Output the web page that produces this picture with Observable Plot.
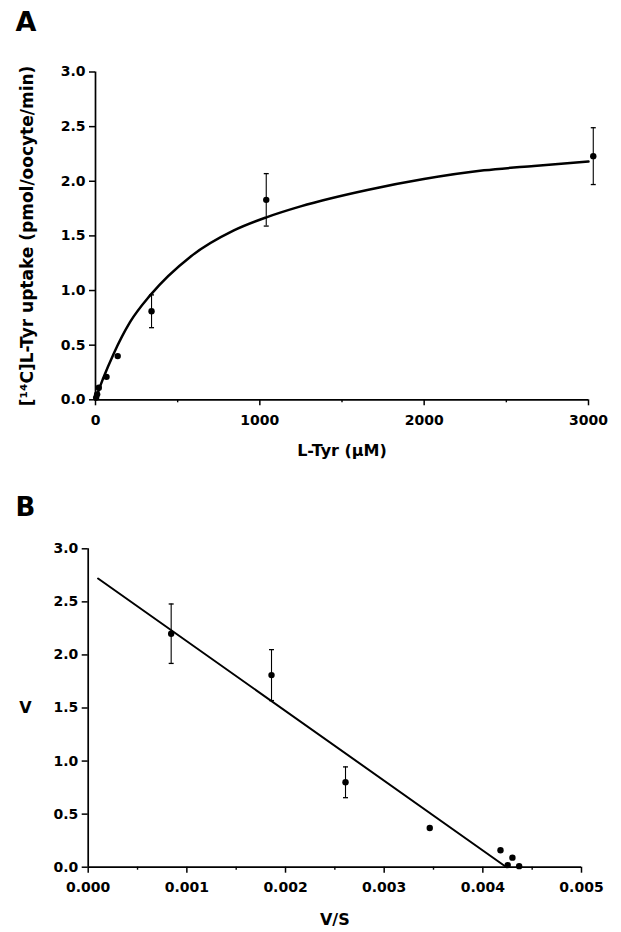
<!DOCTYPE html>
<html><head><meta charset="utf-8">
<script src="https://cdn.jsdelivr.net/npm/d3@7"></script>
<script src="https://cdn.jsdelivr.net/npm/@observablehq/plot@0.6"></script>
<style>
body{margin:0;background:#fff}
#wrap{position:relative;width:621px;height:932px;background:#fff}
#wrap svg{position:absolute;left:0}
</style>
</head><body><div id="wrap"></div>
<script>
// ---- Panel A: Michaelis-Menten plot ----
const aS   = [4, 10, 20, 67, 135, 341, 1039, 3029];        // L-Tyr (µM)
const aV   = [0.02, 0.05, 0.11, 0.21, 0.40, 0.81, 1.83, 2.23]; // uptake
const aErr = [0, 0, 0, 0, 0, 0.15, 0.24, 0.26];
// fitted curve
const aCurveS = [0, 20, 45, 110, 210, 335, 578, 842, 1040, 1248, 1654, 1998, 2364, 2668, 3000];
const aCurveV = [0, 0.09, 0.19, 0.42, 0.71, 0.96, 1.31, 1.55, 1.67, 1.77, 1.92, 2.02, 2.10, 2.14, 2.18];
const aXTicks = [0, 1000, 2000, 3000];
const aXMinor = [500, 1500, 2500];
const aYTicks = [0, 0.5, 1.0, 1.5, 2.0, 2.5, 3.0];
const aXLabel = "L-Tyr (µM)";
const aYLabel = "[¹⁴C]L-Tyr uptake (pmol/oocyte/min)";

// ---- Panel B: Eadie-Hofstee plot ----
const bVS  = [0.000841, 0.001858, 0.002608, 0.003462, 0.004179, 0.004300, 0.004252, 0.004368];
const bV   = [2.20, 1.81, 0.80, 0.37, 0.16, 0.09, 0.02, 0.01];
const bErr = [0.28, 0.24, 0.145, 0, 0, 0, 0, 0];
const bLineVS = [0.0001, 0.00424];
const bLineV  = [2.72, 0];
const bXTicks = [0, 0.001, 0.002, 0.003, 0.004, 0.005];
const bXMinor = [0.0005, 0.0015, 0.0025, 0.0035, 0.0045];
const bYTicks = [0, 0.5, 1.0, 1.5, 2.0, 2.5, 3.0];
const bXLabel = "V/S";
const bYLabel = "V";

const aPts = aS.map((s, i) => ({s, v: aV[i], e: aErr[i]}));
const aCurve = aCurveS.map((s, i) => ({s, v: aCurveV[i]}));
const bPts = bVS.map((s, i) => ({s, v: bV[i], e: bErr[i]}));
const bLine = bLineVS.map((s, i) => ({s, v: bLineV[i]}));

const cap = {draw(ctx, size) { const r = Math.sqrt(size / Math.PI); ctx.moveTo(-r, 0); ctx.lineTo(r, 0); }};

const style = {fontFamily: "'DejaVu Sans', sans-serif", fontSize: "14px", fontWeight: "bold", background: "white", color: "black", overflow: "visible"};

function errorMarks(pts) {
  const e = pts.filter(d => d.e > 0);
  return [
    Plot.ruleX(e, {x: "s", y1: d => d.v - d.e, y2: d => d.v + d.e, strokeWidth: 1.1, stroke: "black"}),
    Plot.dot(e, {x: "s", y: d => d.v + d.e, symbol: cap, r: 2.5, stroke: "black", strokeWidth: 1.3, fill: "none"}),
    Plot.dot(e, {x: "s", y: d => d.v - d.e, symbol: cap, r: 2.5, stroke: "black", strokeWidth: 1.3, fill: "none"})
  ];
}

const plotA = Plot.plot({
  width: 621, height: 470,
  marginLeft: 95, marginRight: 33, marginTop: 71.5, marginBottom: 70.7,
  x: {domain: [0, 3000]},
  y: {domain: [0, 3]},
  style,
  marks: [
    Plot.axisX(aXMinor, {tickSize: 3, tickFormat: () => "", strokeWidth: 1.4, label: null}),
    Plot.axisX(aXTicks, {tickSize: 6, tickPadding: 9, tickFormat: d3.format("d"), strokeWidth: 1.5, label: null}),
    Plot.axisY(aYTicks, {tickSize: 6, tickPadding: 4, tickFormat: d3.format(".1f"), strokeWidth: 1.5, label: null}),
    Plot.ruleY([0], {strokeWidth: 1.7}),
    Plot.ruleX([0], {strokeWidth: 1.7}),
    Plot.line(aCurve, {x: "s", y: "v", curve: "monotone-x", strokeWidth: 2.5}),
    ...errorMarks(aPts),
    Plot.dot(aPts, {x: "s", y: "v", r: 3.2, fill: "black", stroke: null}),
    Plot.text([aXLabel], {frameAnchor: "bottom", dy: 51, lineAnchor: "middle", fontSize: 16}),
    Plot.text([aYLabel], {frameAnchor: "left", dx: -68, rotate: -90, textAnchor: "middle", lineAnchor: "middle", fontSize: 17}),
    Plot.text(["A"], {frameAnchor: "top-left", dx: -80, dy: -41.5, textAnchor: "start", lineAnchor: "bottom", fontSize: 27, fontWeight: 900})
  ]
});

const plotB = Plot.plot({
  width: 621, height: 462,
  marginLeft: 87.7, marginRight: 40, marginTop: 78.3, marginBottom: 65.3,
  x: {domain: [0, 0.005]},
  y: {domain: [0, 3]},
  style,
  marks: [
    Plot.axisX(bXMinor, {tickSize: 3, tickFormat: () => "", strokeWidth: 1.4, label: null}),
    Plot.axisX(bXTicks, {tickSize: 6, tickPadding: 9, tickFormat: d3.format(".3f"), strokeWidth: 1.5, label: null}),
    Plot.axisY(bYTicks, {tickSize: 6, tickPadding: 4, tickFormat: d3.format(".1f"), strokeWidth: 1.5, label: null}),
    Plot.ruleY([0], {strokeWidth: 1.7}),
    Plot.ruleX([0], {strokeWidth: 1.7}),
    Plot.line(bLine, {x: "s", y: "v", strokeWidth: 2}),
    ...errorMarks(bPts),
    Plot.dot(bPts, {x: "s", y: "v", r: 3.2, fill: "black", stroke: null}),
    Plot.text([bXLabel], {frameAnchor: "bottom", dy: 53, lineAnchor: "middle", fontSize: 16}),
    Plot.text([bYLabel], {frameAnchor: "left", dx: -62.7, textAnchor: "middle", lineAnchor: "middle", fontSize: 16}),
    Plot.text(["B"], {frameAnchor: "top-left", dx: -72.7, dy: -33.3, textAnchor: "start", lineAnchor: "bottom", fontSize: 26, fontWeight: 900})
  ]
});

const wrap = document.getElementById("wrap");
plotA.style.top = "0px";
plotB.style.top = "470px";
wrap.appendChild(plotA);
wrap.appendChild(plotB);
</script>
</body></html>
